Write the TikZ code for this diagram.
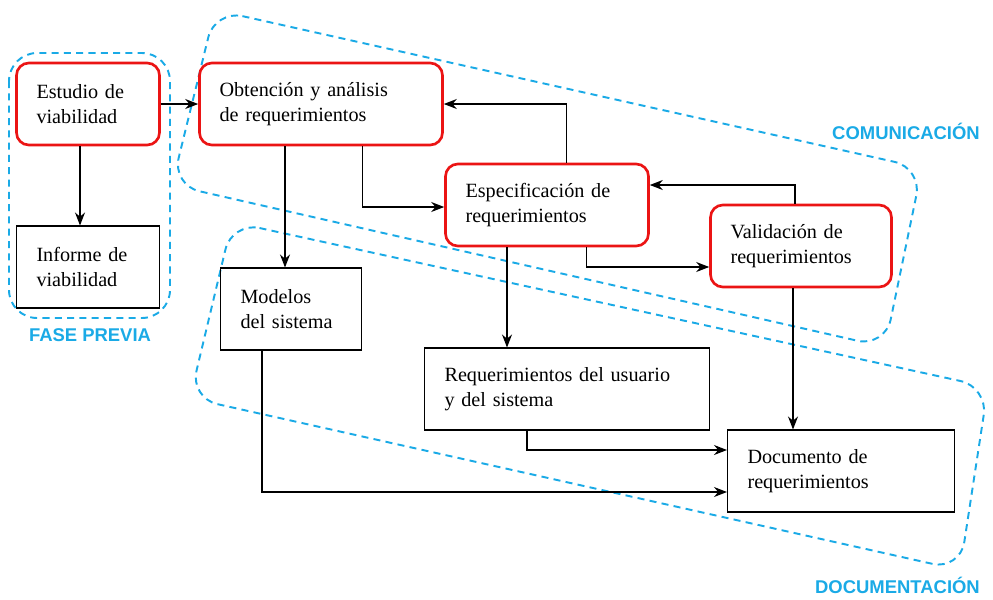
\documentclass[tikz,border=0pt]{standalone}
\usepackage{fontspec}
\setmainfont{Liberation Serif}
\newfontfamily\labelfont{Liberation Sans}
\usetikzlibrary{arrows.meta}
\definecolor{grupoazul}{RGB}{26,170,230}
\definecolor{rojo}{RGB}{235,20,20}
\tikzset{
	caja/.style={draw, line width=0.6pt, inner xsep=0.4cm, align=left, font=\fontsize{11.5}{14.5}\selectfont, minimum height=1.64cm},
	fase/.style={caja, draw=rojo, line width=1.5pt, rounded corners=7pt},
	flecha/.style={-{Stealth[length=2.6mm,width=2mm]}, line width=0.7pt},
	grupo/.style={draw=grupoazul, dashed, line width=1.1pt, dash pattern=on 4pt off 3pt, rounded corners=16pt},
	etiqueta/.style={text=grupoazul, font=\labelfont\bfseries\fontsize{10.5}{12}\selectfont}
}
\begin{document}
\begin{tikzpicture}[x=0.02cm, y=-0.02cm]
	\useasboundingbox (0,0) rectangle (993,599);
	% Grupos
	\draw[grupo] (9,53) rectangle (170,318);
	\draw[grupo] (215,10) -- (922,168) -- (885,347) -- (172,185) -- cycle;
	\draw[grupo] (232,222) -- (988,387) -- (960,570) -- (190,398) -- cycle;
	\node[etiqueta] (lprevia) at (90,335) {FASE PREVIA};
	\node[etiqueta, anchor=east] (lcom) at (986,131) {COMUNICACIÓN};
	\node[etiqueta, anchor=east] (ldoc) at (986,585) {DOCUMENTACIÓN};
	% Fases
	\node[fase, text width=2.06cm] (est) at (88,104) {Estudio de\\viabilidad};
	\node[fase, text width=4.06cm] (obt) at (321,104) {Obtención y análisis\\de requerimientos};
	\node[fase, text width=3.26cm] (esp) at (547,205) {Especificación de\\requerimientos};
	\node[fase, text width=2.82cm] (val) at (801,246) {Validación de\\requerimientos};
	% Documentos
	\node[caja, text width=2.06cm] (inf) at (88,267) {Informe de\\viabilidad};
	\node[caja, text width=2.02cm] (mod) at (291,309) {Modelos\\del sistema};
	\node[caja, text width=4.9cm] (req) at (567,389) {Requerimientos del usuario\\y del sistema};
	\node[caja, text width=3.74cm] (doc) at (841,471) {Documento de\\requerimientos};
	% Conexiones
	\draw[flecha] ([xshift=-0.16cm]est.south) coordinate (a1) -- (a1 |- inf.north);
	\draw[flecha] (est.east) -- (obt.west);
	\draw[flecha] ([xshift=-0.72cm]obt.south) coordinate (a2) -- (a2 |- mod.north);
	\draw[flecha] ([xshift=3.28cm]obt.south west) |- ([yshift=-0.04cm]esp.west);
	\draw[flecha] ([xshift=2.44cm]esp.north west) |- (obt.east);
	\draw[flecha] ([xshift=2.84cm]esp.south west) |- ([yshift=-0.42cm]val.west);
	\draw[flecha] ([xshift=-0.12cm]val.north) |- ([yshift=0.4cm]esp.east);
	\draw[flecha] ([xshift=-0.8cm]esp.south) coordinate (a3) -- (a3 |- req.north);
	\draw[flecha] ([xshift=-0.16cm]val.south) coordinate (a4) -- (a4 |- doc.north);
	\draw[flecha] ([xshift=-0.8cm]req.south) |- ([yshift=0.42cm]doc.west);
	\draw[flecha] ([xshift=-0.58cm]mod.south) |- ([yshift=-0.42cm]doc.west);
\end{tikzpicture}
\end{document}
